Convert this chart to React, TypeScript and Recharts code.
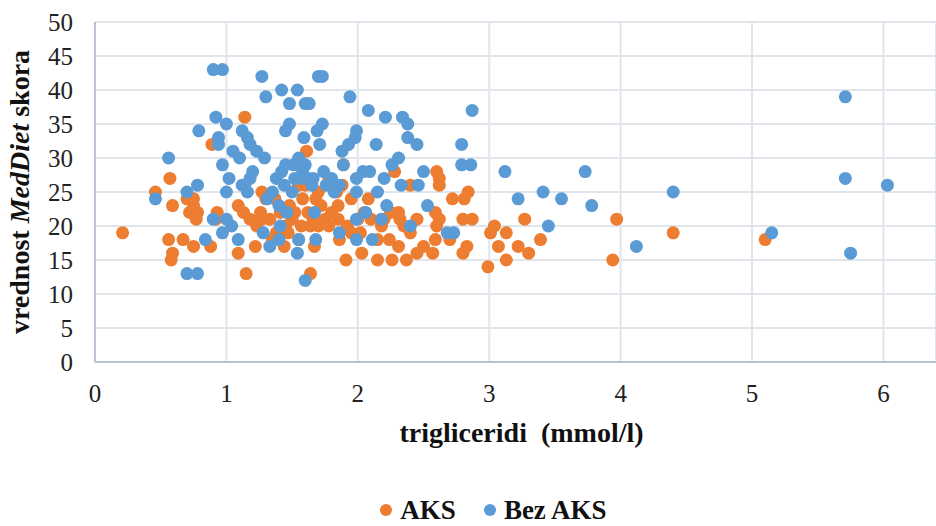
import { ScatterChart, Scatter, XAxis, YAxis, CartesianGrid, Legend } from "recharts";

// [trigliceridi mmol/l, MedDiet skor]
const aksPoints: [number, number][] = [
  [0.21, 19], [0.46, 25], [0.57, 27], [0.59, 23], [0.56, 18], [0.67, 18], [0.59, 16], [0.58, 15],
  [0.75, 17], [0.88, 17], [0.7, 24], [0.75, 24], [0.72, 22], [0.78, 22], [0.77, 21], [0.75, 23],
  [0.93, 22], [0.92, 21], [0.89, 32], [1.14, 36], [1.09, 23], [1.13, 22], [1.09, 16], [1.15, 13],
  [1.22, 17], [1.27, 25], [1.26, 22], [1.27, 21], [1.23, 20], [1.3, 24], [1.33, 21], [1.38, 19],
  [1.44, 17], [1.47, 19], [1.41, 22], [1.37, 24], [1.45, 20], [1.5, 21], [1.52, 22], [1.55, 18],
  [1.58, 24], [1.61, 31], [1.6, 26], [1.62, 22], [1.64, 20], [1.66, 21], [1.64, 13], [1.67, 17],
  [1.7, 20], [1.72, 23], [1.75, 21], [1.78, 20], [1.8, 22], [1.84, 25], [1.85, 23], [1.85, 21],
  [1.86, 18], [1.89, 29], [1.88, 26], [1.91, 15], [1.92, 20], [1.95, 19], [2.0, 21], [2.02, 19],
  [2.03, 16], [2.05, 22], [2.1, 21], [2.15, 15], [2.18, 20], [2.15, 18], [2.2, 21], [2.24, 18],
  [2.26, 15], [2.28, 28], [2.31, 22], [2.32, 21], [2.31, 17], [2.35, 20], [2.37, 15], [2.4, 26],
  [2.4, 19], [2.45, 16], [2.5, 17], [2.57, 16], [2.59, 22], [2.62, 21], [2.6, 20], [2.59, 18],
  [2.6, 28], [2.62, 27], [2.62, 26], [2.7, 18], [2.72, 24], [2.8, 21], [2.81, 24], [2.84, 25],
  [2.83, 17], [2.8, 16], [2.87, 21], [2.99, 14], [3.01, 19], [3.04, 20], [3.07, 17], [3.13, 19],
  [3.13, 15], [3.22, 17], [3.27, 21], [3.3, 16], [3.39, 18], [3.94, 15], [3.97, 21], [4.4, 19],
  [5.1, 18], [1.55, 26], [1.48, 23], [1.7, 25], [1.78, 27], [1.95, 24], [2.08, 24], [2.25, 22],
  [2.45, 21], [1.35, 18], [1.18, 21], [1.57, 20], [1.68, 24],
];

const bezAksPoints: [number, number][] = [
  [0.46, 24], [0.56, 30], [0.7, 13], [0.78, 13], [0.7, 25], [0.78, 26], [0.79, 34], [0.84, 18],
  [0.9, 43], [0.97, 43], [0.92, 36], [0.94, 33], [0.94, 32], [0.97, 29], [0.9, 21], [0.97, 19],
  [1.0, 35], [1.0, 25], [1.0, 21], [1.02, 27], [1.04, 20], [1.05, 31], [1.09, 18], [1.1, 30],
  [1.12, 34], [1.12, 26], [1.14, 26], [1.16, 33], [1.16, 25], [1.18, 32], [1.2, 28], [1.18, 27],
  [1.23, 31], [1.27, 42], [1.28, 19], [1.29, 30], [1.3, 39], [1.31, 24], [1.33, 17], [1.38, 27],
  [1.4, 23], [1.4, 18], [1.41, 20], [1.42, 40], [1.42, 28], [1.44, 26], [1.45, 34], [1.46, 22],
  [1.48, 35], [1.48, 38], [1.5, 25], [1.51, 29], [1.54, 40], [1.54, 16], [1.55, 18], [1.55, 30],
  [1.58, 28], [1.59, 33], [1.6, 38], [1.63, 38], [1.6, 12], [1.62, 27], [1.6, 29], [1.65, 26],
  [1.67, 22], [1.68, 18], [1.69, 34], [1.71, 32], [1.7, 42], [1.73, 42], [1.73, 35], [1.74, 28],
  [1.76, 26], [1.8, 27], [1.82, 25], [1.86, 19], [1.86, 26], [1.88, 31], [1.89, 29], [1.93, 32],
  [1.94, 39], [1.98, 33], [1.99, 34], [1.99, 27], [1.99, 25], [1.99, 21], [1.99, 18], [2.04, 28],
  [2.06, 22], [2.08, 37], [2.09, 28], [2.11, 18], [2.14, 32], [2.15, 25], [2.18, 21], [2.21, 36],
  [2.2, 27], [2.22, 23], [2.26, 29], [2.31, 30], [2.33, 26], [2.34, 36], [2.38, 35], [2.4, 20],
  [2.38, 33], [2.45, 32], [2.46, 26], [2.5, 28], [2.53, 23], [2.68, 19], [2.73, 19], [2.79, 32],
  [2.79, 29], [2.86, 29], [2.87, 37], [3.12, 28], [3.22, 24], [3.41, 25], [3.45, 20], [3.55, 24],
  [3.73, 28], [3.78, 23], [4.12, 17], [4.4, 25], [5.15, 19], [5.71, 39], [5.71, 27], [5.75, 16],
  [6.03, 26], [1.52, 27], [1.56, 27], [1.66, 27], [1.45, 29], [1.35, 25],
];

const xTicks = [0, 1, 2, 3, 4, 5, 6];
const yTicks = [0, 5, 10, 15, 20, 25, 30, 35, 40, 45, 50];

const ORANGE = "#ED7D31";
const BLUE = "#5B9BD5";
const FONT = "'Liberation Serif', 'Times New Roman', serif";

const aksData = aksPoints.map(([x, y]) => ({ x, y }));
const bezAksData = bezAksPoints.map(([x, y]) => ({ x, y }));

const dot = (color: string) => (props: any) => (
  <circle cx={props.cx} cy={props.cy} r={6.5} fill={color} />
);

function YTitle(props: any) {
  const vb = props.viewBox || { y: 22, height: 340 };
  const cy = vb.y + vb.height / 2;
  return (
    <text
      transform={`translate(29,${cy}) rotate(-90)`}
      textAnchor="middle"
      fontFamily={FONT}
      fontSize={28}
      fontWeight="bold"
      fill="#111"
    >
      vrednost <tspan fontStyle="italic">MedDiet</tspan> skora
    </text>
  );
}

function XTitle(props: any) {
  const vb = props.viewBox || { x: 95, y: 362, width: 841 };
  return (
    <text
      x={vb.x + vb.width / 2 + 6}
      y={vb.y + 80}
      textAnchor="middle"
      fontFamily={FONT}
      fontSize={28}
      fontWeight="bold"
      fill="#111"
      style={{ whiteSpace: "pre" }}
    >
      {"trigliceridi  (mmol/l)"}
    </text>
  );
}

function LegendBox() {
  const item = (color: string, name: string) => (
    <span style={{ display: "inline-flex", alignItems: "center", margin: "0 14px" }}>
      <span
        style={{
          width: 12,
          height: 12,
          borderRadius: 6,
          background: color,
          display: "inline-block",
          marginRight: 8,
        }}
      />
      {name}
    </span>
  );
  return (
    <div
      style={{
        textAlign: "center",
        fontFamily: FONT,
        fontSize: 27,
        fontWeight: "bold",
        color: "#111",
        lineHeight: "30px",
        paddingLeft: 16,
      }}
    >
      {item(ORANGE, "AKS")}
      {item(BLUE, "Bez AKS")}
    </div>
  );
}

export default function App() {
  return (
    <div style={{ position: "absolute", left: 0, top: 0, background: "#fff" }}>
      <ScatterChart width={936} height={526} margin={{ top: 22, right: 0, bottom: 4, left: 35 }}>
        <CartesianGrid stroke="#e0e4eb" strokeWidth={2} />
        <XAxis
          type="number"
          dataKey="x"
          domain={[0, 6.4]}
          ticks={xTicks}
          allowDataOverflow
          height={130}
          tickSize={0}
          tickMargin={22}
          axisLine={{ stroke: "#b8c2d2", strokeWidth: 2 }}
          tick={{ fontFamily: FONT, fontSize: 25, fill: "#222" }}
          label={<XTitle />}
        />
        <YAxis
          type="number"
          dataKey="y"
          domain={[0, 50]}
          ticks={yTicks}
          width={60}
          tickSize={0}
          tickMargin={22}
          axisLine={{ stroke: "#b8c2d2", strokeWidth: 2 }}
          tick={{ fontFamily: FONT, fontSize: 25, fill: "#222" }}
          label={<YTitle />}
        />
        <Legend verticalAlign="bottom" height={30} content={() => <LegendBox />} />
        <Scatter name="AKS" data={aksData} fill={ORANGE} shape={dot(ORANGE)} isAnimationActive={false} />
        <Scatter name="Bez AKS" data={bezAksData} fill={BLUE} shape={dot(BLUE)} isAnimationActive={false} />
      </ScatterChart>
    </div>
  );
}
